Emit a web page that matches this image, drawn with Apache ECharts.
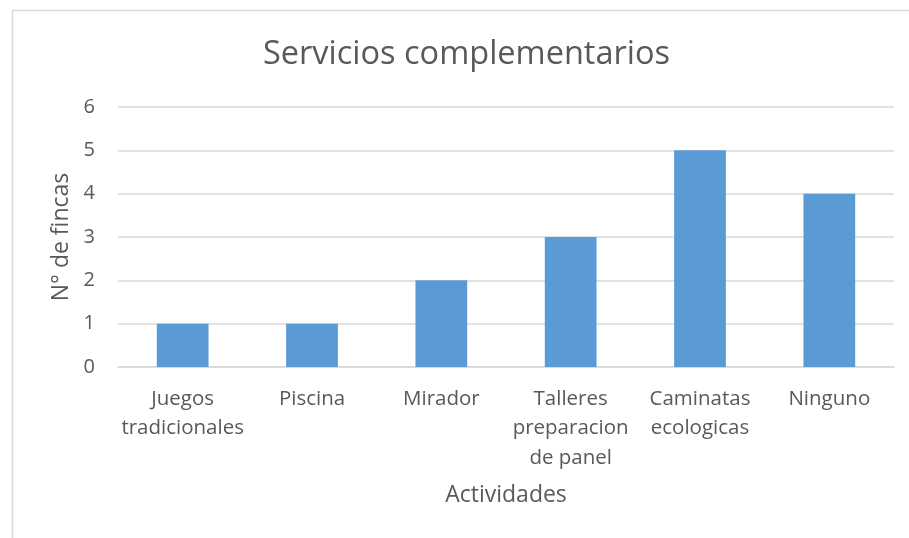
<!DOCTYPE html>
<html>
<head>
<meta charset="utf-8">
<script src="https://cdn.jsdelivr.net/npm/echarts@6/dist/echarts.min.js"></script>
<style>
html, body { margin: 0; padding: 0; background: #fff; }
#chart { width: 909px; height: 538px; }
</style>
</head>
<body>
<div id="chart"></div>
<script>
var TEXT_COLOR = "#595959";
var BAR_COLOR = "#5B9BD5";
var FONT = "Open Sans";

var categories = ["Juegos\ntradicionales", "Piscina", "Mirador", "Talleres\npreparacion\nde panel", "Caminatas\necologicas", "Ninguno"];
var values = [1, 1, 2, 3, 5, 4];
var yTicks = [0, 1, 2, 3, 4, 5, 6];

var chart = echarts.init(document.getElementById("chart"));
var option = {
	backgroundColor: "#fff",
	textStyle: { fontFamily: FONT },
	title: {
		text: "Servicios complementarios",
		// the original chart area runs past the right edge, so the title sits right of centre
		left: 258,
		top: 33,
		textStyle: { color: TEXT_COLOR, fontSize: 32.5, fontWeight: "normal", fontFamily: FONT }
	},
	graphic: [
		{
			// chart area border (only top and left edges are visible)
			type: "rect",
			left: 10,
			top: 8,
			shape: { width: 1000, height: 600 },
			style: { fill: "none", stroke: "#D9D9D9", lineWidth: 1.5 },
			silent: true
		}
	],
	grid: { left: 118, right: 15, top: 107, bottom: 171 },
	xAxis: {
		type: "category",
		data: categories,
		name: "Actividades",
		nameLocation: "middle",
		nameGap: 117,
		nameTextStyle: { color: TEXT_COLOR, fontSize: 23, fontFamily: FONT },
		axisLine: { lineStyle: { color: "#D9D9D9", width: 1.5 } },
		axisTick: { show: false },
		axisLabel: { color: TEXT_COLOR, fontSize: 20.5, lineHeight: 29.5, margin: 17, interval: 0, fontFamily: FONT }
	},
	yAxis: {
		type: "value",
		min: yTicks[0],
		max: yTicks[yTicks.length - 1],
		interval: 1,
		name: "N° de fincas",
		nameLocation: "middle",
		nameGap: 44,
		nameTextStyle: { color: TEXT_COLOR, fontSize: 23, fontFamily: FONT },
		axisLine: { show: false },
		axisTick: { show: false },
		axisLabel: { color: TEXT_COLOR, fontSize: 20, margin: 23, fontFamily: FONT },
		splitLine: { lineStyle: { color: "#D9D9D9", width: 1.5 } }
	},
	series: [
		{
			type: "bar",
			data: values,
			barWidth: "40%",
			itemStyle: { color: BAR_COLOR },
			animation: false
		}
	]
};
chart.setOption(option);
</script>
</body>
</html>
